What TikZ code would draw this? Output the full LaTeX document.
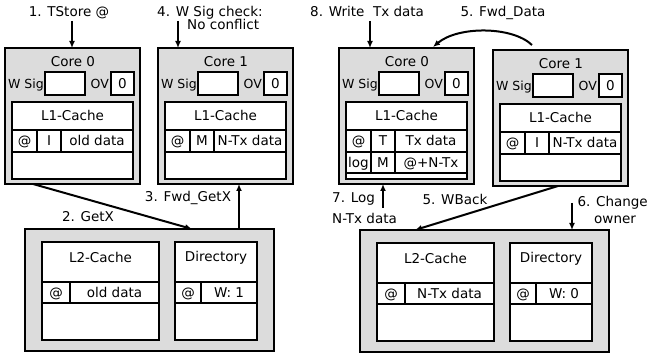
\documentclass[tikz,border=0pt]{standalone}
\usepackage{fontspec}
\setmainfont{DejaVu Sans}
\usetikzlibrary{arrows.meta,calc}
\definecolor{panel}{RGB}{220,220,220}
\begin{document}
\begin{tikzpicture}[x=1pt,y=-1pt,
  frame/.style={draw,line width=2.2pt,fill=panel,inner sep=0pt,outer sep=0pt,anchor=north west},
  cellbox/.style={draw,line width=2pt,fill=white,inner sep=0pt,outer sep=0pt,anchor=north west,
    font=\fontsize{13.5}{15}\selectfont,text height=9.8pt,text depth=0pt},
  lbl/.style={font=\fontsize{13.5}{15}\selectfont,inner sep=0pt,text height=9.8pt,text depth=0pt},
  small/.style={font=\fontsize{12.5}{14}\selectfont,inner sep=0pt,text height=9pt,text depth=0pt},
  arr/.style={line width=2pt,-{Latex[length=7pt,width=6pt]}},
]
\useasboundingbox (0,0) rectangle (649,355);

% processor cores: frame, title, write signature, overflow bit and L1 frame
\foreach \nm/\X/\Y/\ttl in {ca/5/48/Core 0, cb/158/48/Core 1, cc/339/48/Core 0, cd/493/50/Core 1}{
  \begin{scope}[shift={(\X,\Y)}]
    \node[frame,minimum width=135pt,minimum height=136pt] (\nm) at (0,0) {};
    \node[lbl] (\nm-title) at (68,14) {\ttl};
    \node[small,anchor=east] (\nm-siglbl) at (39,36) {W Sig};
    \node[cellbox,minimum width=40pt,minimum height=23pt] (\nm-sig) at (40,24) {};
    \node[small,anchor=east] (\nm-ovlbl) at (104,36) {OV};
    \node[cellbox,minimum width=23pt,minimum height=23pt] (\nm-ov) at (106,24) {0};
    \node[cellbox,minimum width=121pt,minimum height=77pt] (\nm-l1) at (7,54) {};
    \node[lbl] (\nm-hd) at (67.5,68) {L1-Cache};
  \end{scope}
}

% L1 lines of each core
\begin{scope}[shift={(5,48)}]
  \node[cellbox,minimum width=25pt,minimum height=22pt] (ca-a) at (7,82) {@};
  \node[cellbox,minimum width=24pt,minimum height=22pt] (ca-s) at (32,82) {I};
  \node[cellbox,minimum width=72pt,minimum height=22pt] (ca-d) at (56,82) {old data};
\end{scope}
\begin{scope}[shift={(158,48)}]
  \node[cellbox,minimum width=25pt,minimum height=22pt] (cb-a) at (7,82) {@};
  \node[cellbox,minimum width=24pt,minimum height=22pt] (cb-s) at (32,82) {M};
  \node[cellbox,minimum width=72pt,minimum height=22pt] (cb-d) at (56,82) {N-Tx data};
\end{scope}
\begin{scope}[shift={(339,48)}]
  \node[cellbox,minimum width=25pt,minimum height=22pt] (cc-a) at (7,82) {@};
  \node[cellbox,minimum width=24pt,minimum height=22pt] (cc-s) at (32,82) {T};
  \node[cellbox,minimum width=72pt,minimum height=22pt] (cc-d) at (56,82) {Tx data};
  \node[cellbox,minimum width=25pt,minimum height=21pt] (cc-la) at (7,104) {log};
  \node[cellbox,minimum width=24pt,minimum height=21pt] (cc-ls) at (32,104) {M};
  \node[cellbox,minimum width=72pt,minimum height=21pt] (cc-ld) at (56,104) {@+N-Tx};
\end{scope}
\begin{scope}[shift={(493,50)}]
  \node[cellbox,minimum width=25pt,minimum height=22pt] (cd-a) at (7,82) {@};
  \node[cellbox,minimum width=24pt,minimum height=22pt] (cd-s) at (32,82) {I};
  \node[cellbox,minimum width=72pt,minimum height=22pt] (cd-d) at (56,82) {N-Tx data};
\end{scope}

% shared L2 with directory
\foreach \nm/\X/\Y/\dat/\own in {la/25/229/old data/W: 1, lb/360/230/N-Tx data/W: 0}{
  \begin{scope}[shift={(\X,\Y)}]
    \node[frame,minimum width=249pt,minimum height=122pt] (\nm) at (0,0) {};
    \node[cellbox,minimum width=117pt,minimum height=98pt] (\nm-l2) at (17,13) {};
    \node[lbl] (\nm-l2t) at (75.5,29) {L2-Cache};
    \node[cellbox,minimum width=28pt,minimum height=21pt] (\nm-l2a) at (17,53) {@};
    \node[cellbox,minimum width=89pt,minimum height=21pt] (\nm-l2d) at (45,53) {\dat};
    \node[cellbox,minimum width=82pt,minimum height=98pt] (\nm-dir) at (150,13) {};
    \node[lbl] (\nm-dirt) at (191,28) {Directory};
    \node[cellbox,minimum width=26pt,minimum height=21pt] (\nm-da) at (150,53) {@};
    \node[cellbox,minimum width=56pt,minimum height=21pt] (\nm-dw) at (176,53) {\own};
  \end{scope}
}

% step labels
\node[lbl] (n1) at (69,12) {1. TStore @};
\node[lbl,anchor=west] (n4) at (157,12) {4. W Sig check:};
\node[lbl,anchor=west] (n4b) at (187,25) {No conflict};
\node[lbl,anchor=west] (n8) at (310,12) {8. Write~ Tx data};
\node[lbl] (n5) at (503,12) {5. Fwd\_Data};
\node[lbl] (n2) at (88,217) {2. GetX};
\node[lbl] (n3) at (188,197) {3. Fwd\_GetX};
\node[lbl,anchor=west] (n7) at (332,198) {7. Log};
\node[lbl,anchor=west] (n7b) at (332,219) {N-Tx data};
\node[lbl] (n5b) at (455,200) {5. WBack};
\node[lbl,anchor=east] (n6) at (648,202) {6. Change};
\node[lbl,anchor=west] (n6b) at (594,219) {owner};

% messages
\coordinate (t1) at (72,21);
\coordinate (t4) at (178,21);
\coordinate (t8) at (370,21);
\coordinate (f3) at (239,0);
\coordinate (l7) at (383,208);
\coordinate (c6) at (572,203);
\coordinate (f5s) at (532,45);
\coordinate (f5e) at (433,47);
\draw[arr] (t1) -- (t1 |- ca.north);
\draw[arr] (t4) -- (t4 |- cb.north);
\draw[arr] (t8) -- (t8 |- cc.north);
\draw[arr] (f5s) .. controls (512,26) and (458,26) .. (f5e);
\draw[arr] ($(ca.south west)+(28,0)$) -- ($(la.north west)+(167,0)$);
\draw[arr] (f3 |- la.north) -- (f3 |- cb.south);
\draw[arr] (l7) -- (l7 |- cc.south);
\draw[arr] ($(cd.south west)+(65,0)$) -- ($(lb.north west)+(55,0)$);
\draw[arr] (c6) -- (c6 |- lb.north);
\end{tikzpicture}
\end{document}
